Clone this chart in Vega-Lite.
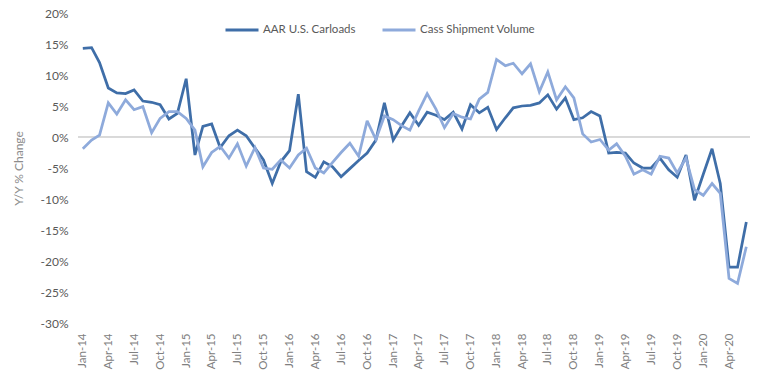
{
  "$schema": "https://vega.github.io/schema/vega-lite/v6.json",
  "width": 672,
  "height": 310,
  "autosize": {"type": "none"},
  "padding": {"left": 78, "top": 13, "right": 14, "bottom": 56},
  "config": {
    "view": {"stroke": null},
    "font": "Lato",
    "axis": {"labelColor": "#595959", "labelFontSize": 11, "labelFont": "Lato"}
  },
  "data": {"values": [
    {"date":"2014/01/01","series":"AAR U.S. Carloads","value":14.3},{"date":"2014/02/01","series":"AAR U.S. Carloads","value":14.4},{"date":"2014/03/01","series":"AAR U.S. Carloads","value":12.0},{"date":"2014/04/01","series":"AAR U.S. Carloads","value":7.9},{"date":"2014/05/01","series":"AAR U.S. Carloads","value":7.1},{"date":"2014/06/01","series":"AAR U.S. Carloads","value":7.0},{"date":"2014/07/01","series":"AAR U.S. Carloads","value":7.6},{"date":"2014/08/01","series":"AAR U.S. Carloads","value":5.8},{"date":"2014/09/01","series":"AAR U.S. Carloads","value":5.6},{"date":"2014/10/01","series":"AAR U.S. Carloads","value":5.2},{"date":"2014/11/01","series":"AAR U.S. Carloads","value":2.9},{"date":"2014/12/01","series":"AAR U.S. Carloads","value":3.8},
    {"date":"2015/01/01","series":"AAR U.S. Carloads","value":9.4},{"date":"2015/02/01","series":"AAR U.S. Carloads","value":-2.9},{"date":"2015/03/01","series":"AAR U.S. Carloads","value":1.7},{"date":"2015/04/01","series":"AAR U.S. Carloads","value":2.1},{"date":"2015/05/01","series":"AAR U.S. Carloads","value":-1.7},{"date":"2015/06/01","series":"AAR U.S. Carloads","value":0.2},{"date":"2015/07/01","series":"AAR U.S. Carloads","value":1.1},{"date":"2015/08/01","series":"AAR U.S. Carloads","value":0.2},{"date":"2015/09/01","series":"AAR U.S. Carloads","value":-1.8},{"date":"2015/10/01","series":"AAR U.S. Carloads","value":-3.7},{"date":"2015/11/01","series":"AAR U.S. Carloads","value":-7.5},{"date":"2015/12/01","series":"AAR U.S. Carloads","value":-4.0},
    {"date":"2016/01/01","series":"AAR U.S. Carloads","value":-2.2},{"date":"2016/02/01","series":"AAR U.S. Carloads","value":6.9},{"date":"2016/03/01","series":"AAR U.S. Carloads","value":-5.6},{"date":"2016/04/01","series":"AAR U.S. Carloads","value":-6.5},{"date":"2016/05/01","series":"AAR U.S. Carloads","value":-4.0},{"date":"2016/06/01","series":"AAR U.S. Carloads","value":-4.8},{"date":"2016/07/01","series":"AAR U.S. Carloads","value":-6.4},{"date":"2016/08/01","series":"AAR U.S. Carloads","value":-5.1},{"date":"2016/09/01","series":"AAR U.S. Carloads","value":-3.8},{"date":"2016/10/01","series":"AAR U.S. Carloads","value":-2.6},{"date":"2016/11/01","series":"AAR U.S. Carloads","value":-0.5},{"date":"2016/12/01","series":"AAR U.S. Carloads","value":5.5},
    {"date":"2017/01/01","series":"AAR U.S. Carloads","value":-0.5},{"date":"2017/02/01","series":"AAR U.S. Carloads","value":1.9},{"date":"2017/03/01","series":"AAR U.S. Carloads","value":3.9},{"date":"2017/04/01","series":"AAR U.S. Carloads","value":1.9},{"date":"2017/05/01","series":"AAR U.S. Carloads","value":4.0},{"date":"2017/06/01","series":"AAR U.S. Carloads","value":3.5},{"date":"2017/07/01","series":"AAR U.S. Carloads","value":2.8},{"date":"2017/08/01","series":"AAR U.S. Carloads","value":4.0},{"date":"2017/09/01","series":"AAR U.S. Carloads","value":1.3},{"date":"2017/10/01","series":"AAR U.S. Carloads","value":5.2},{"date":"2017/11/01","series":"AAR U.S. Carloads","value":3.9},{"date":"2017/12/01","series":"AAR U.S. Carloads","value":4.8},
    {"date":"2018/01/01","series":"AAR U.S. Carloads","value":1.2},{"date":"2018/02/01","series":"AAR U.S. Carloads","value":3.1},{"date":"2018/03/01","series":"AAR U.S. Carloads","value":4.7},{"date":"2018/04/01","series":"AAR U.S. Carloads","value":5.0},{"date":"2018/05/01","series":"AAR U.S. Carloads","value":5.1},{"date":"2018/06/01","series":"AAR U.S. Carloads","value":5.5},{"date":"2018/07/01","series":"AAR U.S. Carloads","value":6.8},{"date":"2018/08/01","series":"AAR U.S. Carloads","value":4.5},{"date":"2018/09/01","series":"AAR U.S. Carloads","value":6.3},{"date":"2018/10/01","series":"AAR U.S. Carloads","value":2.8},{"date":"2018/11/01","series":"AAR U.S. Carloads","value":3.1},{"date":"2018/12/01","series":"AAR U.S. Carloads","value":4.1},
    {"date":"2019/01/01","series":"AAR U.S. Carloads","value":3.4},{"date":"2019/02/01","series":"AAR U.S. Carloads","value":-2.6},{"date":"2019/03/01","series":"AAR U.S. Carloads","value":-2.5},{"date":"2019/04/01","series":"AAR U.S. Carloads","value":-2.6},{"date":"2019/05/01","series":"AAR U.S. Carloads","value":-4.2},{"date":"2019/06/01","series":"AAR U.S. Carloads","value":-5.0},{"date":"2019/07/01","series":"AAR U.S. Carloads","value":-5.0},{"date":"2019/08/01","series":"AAR U.S. Carloads","value":-3.4},{"date":"2019/09/01","series":"AAR U.S. Carloads","value":-5.3},{"date":"2019/10/01","series":"AAR U.S. Carloads","value":-6.5},{"date":"2019/11/01","series":"AAR U.S. Carloads","value":-2.9},{"date":"2019/12/01","series":"AAR U.S. Carloads","value":-10.2},
    {"date":"2020/01/01","series":"AAR U.S. Carloads","value":-6.0},{"date":"2020/02/01","series":"AAR U.S. Carloads","value":-1.9},{"date":"2020/03/01","series":"AAR U.S. Carloads","value":-7.5},{"date":"2020/04/01","series":"AAR U.S. Carloads","value":-21.0},{"date":"2020/05/01","series":"AAR U.S. Carloads","value":-21.0},{"date":"2020/06/01","series":"AAR U.S. Carloads","value":-13.7},
    {"date":"2014/01/01","series":"Cass Shipment Volume","value":-1.9},{"date":"2014/02/01","series":"Cass Shipment Volume","value":-0.5},{"date":"2014/03/01","series":"Cass Shipment Volume","value":0.3},{"date":"2014/04/01","series":"Cass Shipment Volume","value":5.5},{"date":"2014/05/01","series":"Cass Shipment Volume","value":3.7},{"date":"2014/06/01","series":"Cass Shipment Volume","value":6.0},{"date":"2014/07/01","series":"Cass Shipment Volume","value":4.4},{"date":"2014/08/01","series":"Cass Shipment Volume","value":4.9},{"date":"2014/09/01","series":"Cass Shipment Volume","value":0.7},{"date":"2014/10/01","series":"Cass Shipment Volume","value":3.0},{"date":"2014/11/01","series":"Cass Shipment Volume","value":4.1},{"date":"2014/12/01","series":"Cass Shipment Volume","value":4.1},
    {"date":"2015/01/01","series":"Cass Shipment Volume","value":3.0},{"date":"2015/02/01","series":"Cass Shipment Volume","value":1.1},{"date":"2015/03/01","series":"Cass Shipment Volume","value":-4.8},{"date":"2015/04/01","series":"Cass Shipment Volume","value":-2.5},{"date":"2015/05/01","series":"Cass Shipment Volume","value":-1.5},{"date":"2015/06/01","series":"Cass Shipment Volume","value":-3.4},{"date":"2015/07/01","series":"Cass Shipment Volume","value":-1.1},{"date":"2015/08/01","series":"Cass Shipment Volume","value":-4.7},{"date":"2015/09/01","series":"Cass Shipment Volume","value":-1.7},{"date":"2015/10/01","series":"Cass Shipment Volume","value":-5.0},{"date":"2015/11/01","series":"Cass Shipment Volume","value":-5.2},{"date":"2015/12/01","series":"Cass Shipment Volume","value":-3.7},
    {"date":"2016/01/01","series":"Cass Shipment Volume","value":-5.0},{"date":"2016/02/01","series":"Cass Shipment Volume","value":-2.9},{"date":"2016/03/01","series":"Cass Shipment Volume","value":-1.8},{"date":"2016/04/01","series":"Cass Shipment Volume","value":-5.0},{"date":"2016/05/01","series":"Cass Shipment Volume","value":-5.8},{"date":"2016/06/01","series":"Cass Shipment Volume","value":-4.1},{"date":"2016/07/01","series":"Cass Shipment Volume","value":-2.5},{"date":"2016/08/01","series":"Cass Shipment Volume","value":-1.0},{"date":"2016/09/01","series":"Cass Shipment Volume","value":-3.1},{"date":"2016/10/01","series":"Cass Shipment Volume","value":2.6},{"date":"2016/11/01","series":"Cass Shipment Volume","value":-0.4},{"date":"2016/12/01","series":"Cass Shipment Volume","value":3.4},
    {"date":"2017/01/01","series":"Cass Shipment Volume","value":2.8},{"date":"2017/02/01","series":"Cass Shipment Volume","value":1.8},{"date":"2017/03/01","series":"Cass Shipment Volume","value":1.1},{"date":"2017/04/01","series":"Cass Shipment Volume","value":4.2},{"date":"2017/05/01","series":"Cass Shipment Volume","value":7.0},{"date":"2017/06/01","series":"Cass Shipment Volume","value":4.5},{"date":"2017/07/01","series":"Cass Shipment Volume","value":1.5},{"date":"2017/08/01","series":"Cass Shipment Volume","value":3.8},{"date":"2017/09/01","series":"Cass Shipment Volume","value":3.2},{"date":"2017/10/01","series":"Cass Shipment Volume","value":2.9},{"date":"2017/11/01","series":"Cass Shipment Volume","value":6.1},{"date":"2017/12/01","series":"Cass Shipment Volume","value":7.2},
    {"date":"2018/01/01","series":"Cass Shipment Volume","value":12.5},{"date":"2018/02/01","series":"Cass Shipment Volume","value":11.5},{"date":"2018/03/01","series":"Cass Shipment Volume","value":11.9},{"date":"2018/04/01","series":"Cass Shipment Volume","value":10.2},{"date":"2018/05/01","series":"Cass Shipment Volume","value":11.8},{"date":"2018/06/01","series":"Cass Shipment Volume","value":7.3},{"date":"2018/07/01","series":"Cass Shipment Volume","value":10.5},{"date":"2018/08/01","series":"Cass Shipment Volume","value":6.0},{"date":"2018/09/01","series":"Cass Shipment Volume","value":8.1},{"date":"2018/10/01","series":"Cass Shipment Volume","value":6.3},{"date":"2018/11/01","series":"Cass Shipment Volume","value":0.5},{"date":"2018/12/01","series":"Cass Shipment Volume","value":-0.8},
    {"date":"2019/01/01","series":"Cass Shipment Volume","value":-0.4},{"date":"2019/02/01","series":"Cass Shipment Volume","value":-2.1},{"date":"2019/03/01","series":"Cass Shipment Volume","value":-1.1},{"date":"2019/04/01","series":"Cass Shipment Volume","value":-3.1},{"date":"2019/05/01","series":"Cass Shipment Volume","value":-6.0},{"date":"2019/06/01","series":"Cass Shipment Volume","value":-5.3},{"date":"2019/07/01","series":"Cass Shipment Volume","value":-6.0},{"date":"2019/08/01","series":"Cass Shipment Volume","value":-3.1},{"date":"2019/09/01","series":"Cass Shipment Volume","value":-3.4},{"date":"2019/10/01","series":"Cass Shipment Volume","value":-5.8},{"date":"2019/11/01","series":"Cass Shipment Volume","value":-3.4},{"date":"2019/12/01","series":"Cass Shipment Volume","value":-8.5},
    {"date":"2020/01/01","series":"Cass Shipment Volume","value":-9.4},{"date":"2020/02/01","series":"Cass Shipment Volume","value":-7.5},{"date":"2020/03/01","series":"Cass Shipment Volume","value":-9.1},{"date":"2020/04/01","series":"Cass Shipment Volume","value":-22.8},{"date":"2020/05/01","series":"Cass Shipment Volume","value":-23.6},{"date":"2020/06/01","series":"Cass Shipment Volume","value":-17.7}
  ]},
  "encoding": {
    "y": {
      "type": "quantitative",
      "scale": {"domain": [-30, 20], "nice": false, "zero": false},
      "axis": {
        "title": "Y/Y % Change", "titleColor": "#8c8c8c", "titleFontWeight": "normal",
        "titleFontSize": 12, "titleFont": "Lato", "titlePadding": 15,
        "values": [-30, -25, -20, -15, -10, -5, 0, 5, 10, 15, 20],
        "labelExpr": "datum.value + '%'",
        "labelOverlap": false, "labelFlush": false, "labelFontSize": 12,
        "grid": false, "domain": false, "ticks": false, "tickSize": 0,
        "labelPadding": 10
      }
    }
  },
  "layer": [
    {
      "mark": {"type": "rule", "color": "#d9d9d9", "strokeWidth": 1},
      "encoding": {"y": {"datum": 0, "type": "quantitative"}}
    },
    {
      "mark": {"type": "line", "strokeWidth": 2.75, "strokeJoin": "miter", "strokeMiterLimit": 3},
      "encoding": {
        "x": {
          "field": "date", "type": "temporal",
          "scale": {"domain": [{"year": 2013, "month": 12, "date": 15}, {"year": 2020, "month": 6, "date": 14}]},
          "axis": {
            "title": null, "format": "%b-%y", "labelAngle": -90,
            "tickCount": {"interval": "month", "step": 3},
            "grid": false, "domain": false, "ticks": false, "tickSize": 0,
            "labelPadding": 10, "labelOverlap": false, "labelFlush": false,
            "labelColor": "#808080", "labelFontSize": 11.5
          }
        },
        "y": {"field": "value", "type": "quantitative"},
        "color": {
          "field": "series", "type": "nominal",
          "scale": {"domain": ["AAR U.S. Carloads", "Cass Shipment Volume"], "range": ["#3f6ea8", "#8eaadb"]},
          "legend": {
            "title": null, "orient": "none", "direction": "horizontal",
            "legendX": 146, "legendY": -1,
            "symbolType": "stroke", "symbolSize": 1089, "symbolStrokeWidth": 3,
            "labelFontSize": 11.5, "labelColor": "#595959", "labelFont": "Lato",
            "labelOffset": 3, "columnPadding": 20
          }
        }
      }
    }
  ]
}
